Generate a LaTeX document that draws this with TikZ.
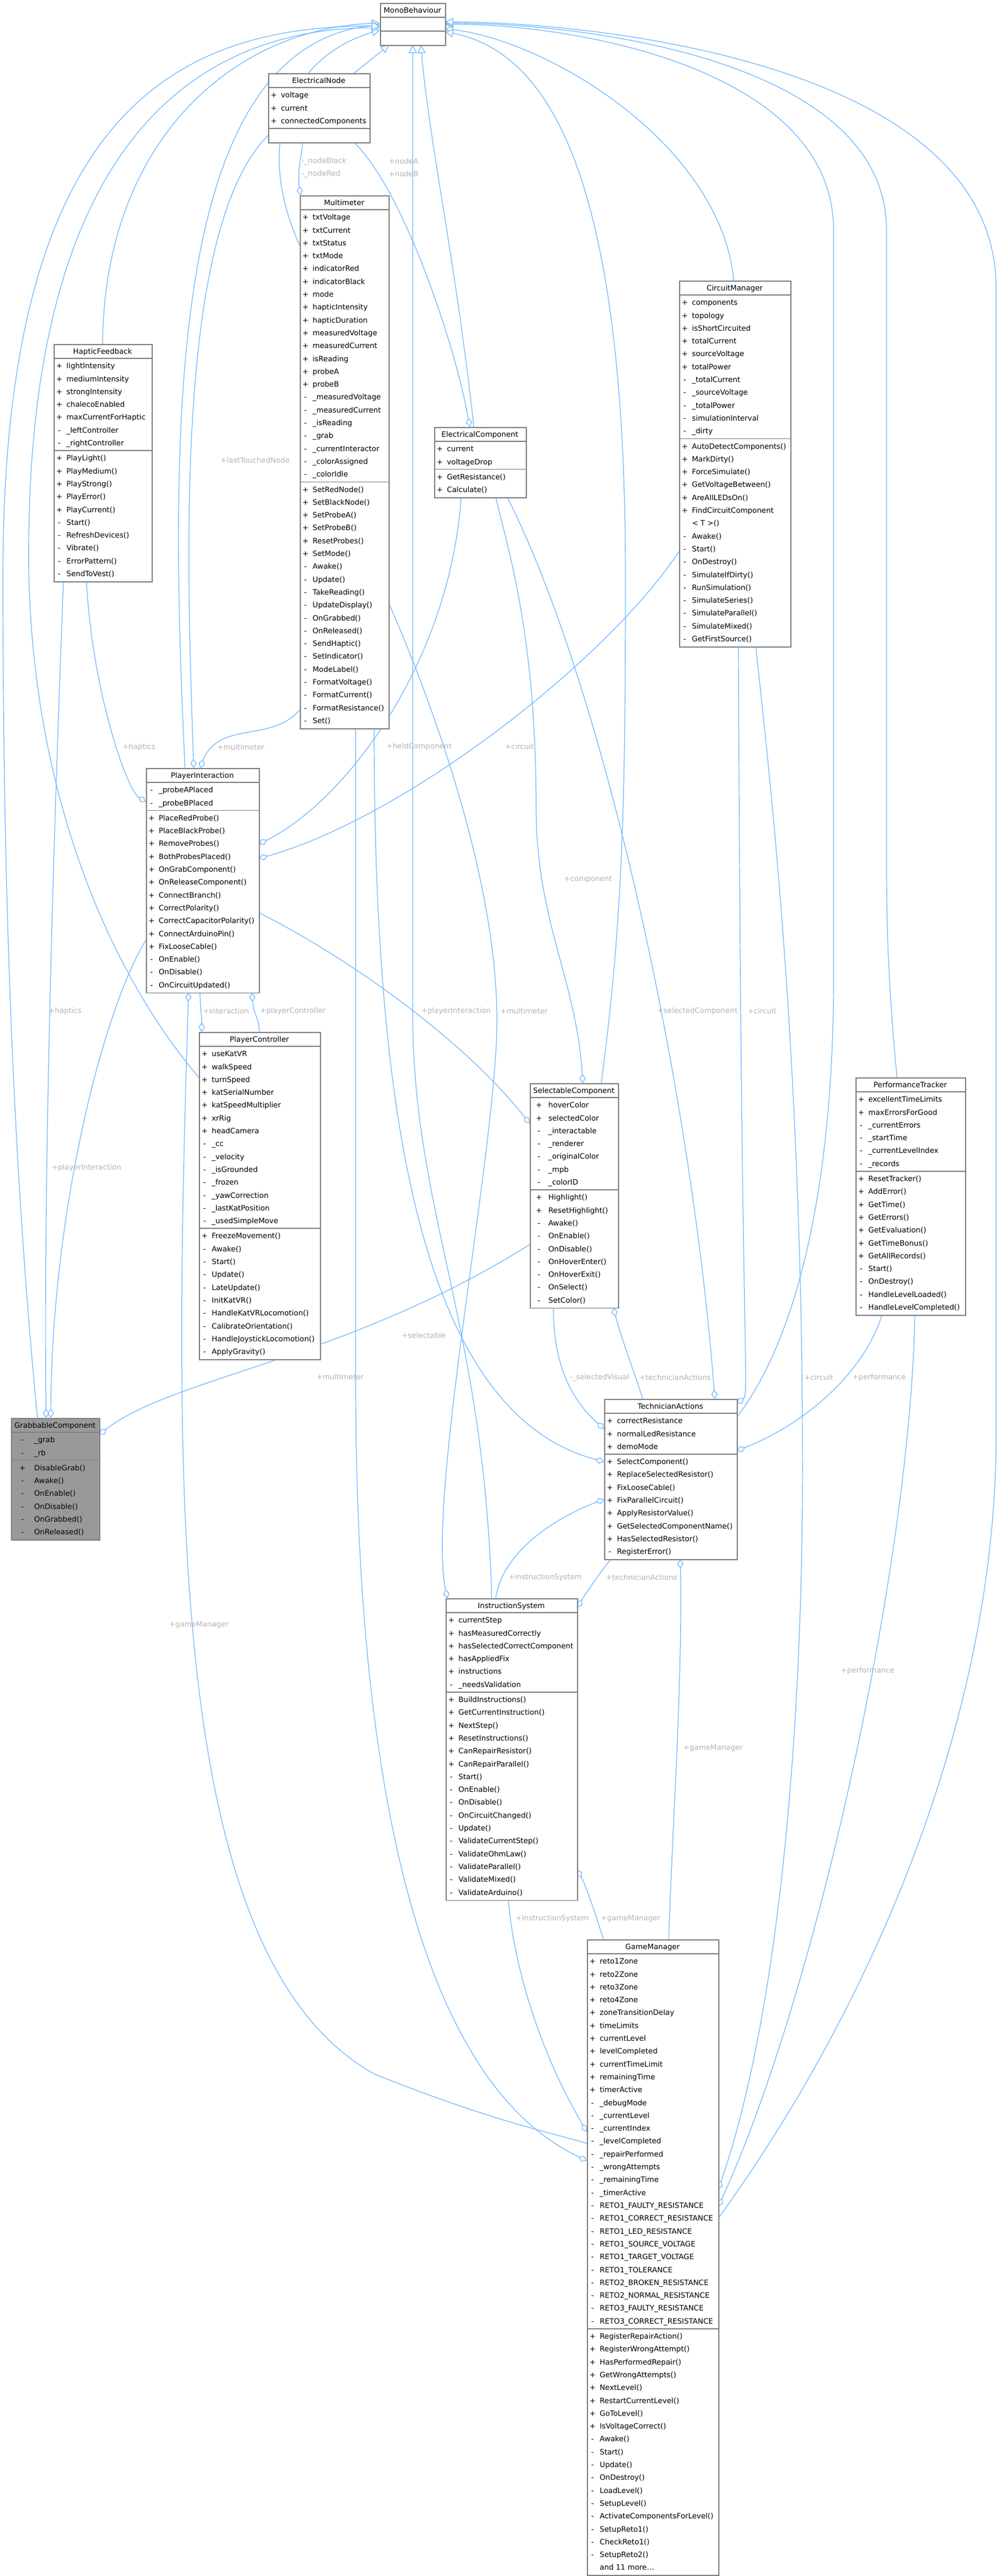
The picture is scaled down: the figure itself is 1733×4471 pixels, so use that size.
\documentclass[tikz,border=0pt]{standalone}
\usepackage{fontspec}
\setmainfont{DejaVu Sans}
\usetikzlibrary{arrows.meta,calc}
\pgfdeclarelayer{bg}\pgfsetlayers{bg,main}
\definecolor{edgec}{HTML}{6AB7FF}
\definecolor{boxc}{HTML}{808080}
\definecolor{lblc}{HTML}{B4B4B4}
\definecolor{grayfill}{HTML}{999999}
\def\boxfill{white}\def\signoff{10}\def\nameoff{22}
\tikzset{
 box/.style={draw=boxc,line width=0.8pt,inner sep=0pt},
 boxline/.style={draw=boxc,line width=0.8pt},
 txt/.style={inner sep=0pt,font=\fontsize{6.4pt}{7.5pt}\selectfont},
 lbl/.style={inner sep=0pt,text=lblc,font=\fontsize{6.4pt}{7.5pt}\selectfont},
 assoc/.style={draw=edgec,line width=0.6pt,{Diamond[fill=white,length=8pt,width=5.5pt]}-},
 inh/.style={draw=edgec,line width=0.6pt,-{Triangle[fill=white,length=7pt,width=7pt]}}
}
\newcommand\umlclass[9]{%
 \pgfmathsetmacro\ya{#3+25}%
 \pgfmathsetmacro\yb{\ya+max(#6*22.3,20)+4}%
 \pgfmathsetmacro\yc{\yb+max(#8*22.3,20)+4}%
 \pgfmathsetmacro\hh{(\yc-#3)*0.5}%
 \pgfmathsetmacro\ww{#4*0.5}%
 \node[box,fill=\boxfill,minimum width=\ww pt,minimum height=\hh pt,anchor=north west] (#1) at (#2,#3) {};
 \draw[boxline] (#2,\ya) -- ++(#4,0) (#2,\yb) -- ++(#4,0);
 \node[txt,anchor=base] (#1-title) at ({#2+#4/2},{#3+17}) {#5};
 \ifnum#6>0
 \foreach[count=\i] \v/\n in {#7}{%
  \node[txt,anchor=base] (#1-as\i) at ({#2+\signoff},{\ya+2+(\i-0.5)*22.3+4.6}) {\v};
  \node[txt,anchor=base west] (#1-a\i) at ({#2+\nameoff},{\ya+2+(\i-0.5)*22.3+4.6}) {\n};}
 \fi
 \ifnum#8>0
 \foreach[count=\i] \v/\n in {#9}{%
  \node[txt,anchor=base] (#1-ms\i) at ({#2+\signoff},{\yb+2+(\i-0.5)*22.3+4.6}) {\v};
  \node[txt,anchor=base west] (#1-m\i) at ({#2+\nameoff},{\yb+2+(\i-0.5)*22.3+4.6}) {\n};}
 \fi
}
\begin{document}
\begin{tikzpicture}[x=0.5pt,y=-0.5pt]
\begin{pgfonlayer}{bg}
\fill[white] (0,0) rectangle (1733,4471);
\end{pgfonlayer}
\useasboundingbox (0,0) rectangle (1733,4471);

\umlclass{mb}{659}{5}{113}{MonoBehaviour}{0}{}{0}{}
\umlclass{en}{465}{127}{176}{ElectricalNode}{3}{+/voltage,+/current,+/connectedComponents}{0}{}
\umlclass{mm}{520}{339}{154}{Multimeter}{21}{+/txtVoltage,+/txtCurrent,+/txtStatus,+/txtMode,+/indicatorRed,+/indicatorBlack,+/mode,+/hapticIntensity,+/hapticDuration,+/measuredVoltage,+/measuredCurrent,+/isReading,+/probeA,+/probeB,-/\_measuredVoltage,-/\_measuredCurrent,-/\_isReading,-/\_grab,-/\_currentInteractor,-/\_colorAssigned,-/\_colorIdle}{19}{+/SetRedNode(),+/SetBlackNode(),+/SetProbeA(),+/SetProbeB(),+/ResetProbes(),+/SetMode(),-/Awake(),-/Update(),-/TakeReading(),-/UpdateDisplay(),-/OnGrabbed(),-/OnReleased(),-/SendHaptic(),-/SetIndicator(),-/ModeLabel(),-/FormatVoltage(),-/FormatCurrent(),-/FormatResistance(),-/Set()}
\umlclass{ec}{753}{741}{159}{ElectricalComponent}{2}{+/current,+/voltageDrop}{2}{+/GetResistance(),+/Calculate()}
\umlclass{cm}{1178}{487}{193}{CircuitManager}{11}{+/components,+/topology,+/isShortCircuited,+/totalCurrent,+/sourceVoltage,+/totalPower,-/\_totalCurrent,-/\_sourceVoltage,-/\_totalPower,-/simulationInterval,-/\_dirty}{16}{+/AutoDetectComponents(),+/MarkDirty(),+/ForceSimulate(),+/GetVoltageBetween(),+/AreAllLEDsOn(),+/FindCircuitComponent,{}/< T >(),-/Awake(),-/Start(),-/OnDestroy(),-/SimulateIfDirty(),-/RunSimulation(),-/SimulateSeries(),-/SimulateParallel(),-/SimulateMixed(),-/GetFirstSource()}
\umlclass{hf}{93}{597}{170}{HapticFeedback}{7}{+/lightIntensity,+/mediumIntensity,+/strongIntensity,+/chalecoEnabled,+/maxCurrentForHaptic,-/\_leftController,-/\_rightController}{10}{+/PlayLight(),+/PlayMedium(),+/PlayStrong(),+/PlayError(),+/PlayCurrent(),-/Start(),-/RefreshDevices(),-/Vibrate(),-/ErrorPattern(),-/SendToVest()}
\umlclass{pi}{253}{1333}{196}{PlayerInteraction}{2}{-/\_probeAPlaced,-/\_probeBPlaced}{14}{+/PlaceRedProbe(),+/PlaceBlackProbe(),+/RemoveProbes(),+/BothProbesPlaced(),+/OnGrabComponent(),+/OnReleaseComponent(),+/ConnectBranch(),+/CorrectPolarity(),+/CorrectCapacitorPolarity(),+/ConnectArduinoPin(),+/FixLooseCable(),-/OnEnable(),-/OnDisable(),-/OnCircuitUpdated()}
\umlclass{pc}{345}{1791}{210}{PlayerController}{14}{+/useKatVR,+/walkSpeed,+/turnSpeed,+/katSerialNumber,+/katSpeedMultiplier,+/xrRig,+/headCamera,-/\_cc,-/\_velocity,-/\_isGrounded,-/\_frozen,-/\_yawCorrection,-/\_lastKatPosition,-/\_usedSimpleMove}{10}{+/FreezeMovement(),-/Awake(),-/Start(),-/Update(),-/LateUpdate(),-/InitKatVR(),-/HandleKatVRLocomotion(),-/CalibrateOrientation(),-/HandleJoystickLocomotion(),-/ApplyGravity()}
\def\signoff{16}\def\nameoff{32}
\umlclass{sc}{919}{1880}{153}{SelectableComponent}{7}{+/hoverColor,+/selectedColor,-/\_interactable,-/\_renderer,-/\_originalColor,-/\_mpb,-/\_colorID}{9}{+/Highlight(),+/ResetHighlight(),-/Awake(),-/OnEnable(),-/OnDisable(),-/OnHoverEnter(),-/OnHoverExit(),-/OnSelect(),-/SetColor()}
\def\signoff{20}\def\nameoff{40}\def\boxfill{grayfill}
\umlclass{gc}{19}{2461}{153}{GrabbableComponent}{2}{-/\_grab,-/\_rb}{6}{+/DisableGrab(),-/Awake(),-/OnEnable(),-/OnDisable(),-/OnGrabbed(),-/OnReleased()}
\def\signoff{10}\def\nameoff{22}\def\boxfill{white}
\umlclass{ta}{1048}{2428}{230}{TechnicianActions}{3}{+/correctResistance,+/normalLedResistance,+/demoMode}{8}{+/SelectComponent(),+/ReplaceSelectedResistor(),+/FixLooseCable(),+/FixParallelCircuit(),+/ApplyResistorValue(),+/GetSelectedComponentName(),+/HasSelectedResistor(),-/RegisterError()}
\umlclass{is}{773}{2774}{228}{InstructionSystem}{6}{+/currentStep,+/hasMeasuredCorrectly,+/hasSelectedCorrectComponent,+/hasAppliedFix,+/instructions,-/\_needsValidation}{16}{+/BuildInstructions(),+/GetCurrentInstruction(),+/NextStep(),+/ResetInstructions(),+/CanRepairResistor(),+/CanRepairParallel(),-/Start(),-/OnEnable(),-/OnDisable(),-/OnCircuitChanged(),-/Update(),-/ValidateCurrentStep(),-/ValidateOhmLaw(),-/ValidateParallel(),-/ValidateMixed(),-/ValidateArduino()}
\umlclass{pt}{1484}{1870}{190}{PerformanceTracker}{6}{+/excellentTimeLimits,+/maxErrorsForGood,-/\_currentErrors,-/\_startTime,-/\_currentLevelIndex,-/\_records}{11}{+/ResetTracker(),+/AddError(),+/GetTime(),+/GetErrors(),+/GetEvaluation(),+/GetTimeBonus(),+/GetAllRecords(),-/Start(),-/OnDestroy(),-/HandleLevelLoaded(),-/HandleLevelCompleted()}
\umlclass{gm}{1018}{3366}{228}{GameManager}{29}{+/reto1Zone,+/reto2Zone,+/reto3Zone,+/reto4Zone,+/zoneTransitionDelay,+/timeLimits,+/currentLevel,+/levelCompleted,+/currentTimeLimit,+/remainingTime,+/timerActive,-/\_debugMode,-/\_currentLevel,-/\_currentIndex,-/\_levelCompleted,-/\_repairPerformed,-/\_wrongAttempts,-/\_remainingTime,-/\_timerActive,-/RETO1\_FAULTY\_RESISTANCE,-/RETO1\_CORRECT\_RESISTANCE,-/RETO1\_LED\_RESISTANCE,-/RETO1\_SOURCE\_VOLTAGE,-/RETO1\_TARGET\_VOLTAGE,-/RETO1\_TOLERANCE,-/RETO2\_BROKEN\_RESISTANCE,-/RETO2\_NORMAL\_RESISTANCE,-/RETO3\_FAULTY\_RESISTANCE,-/RETO3\_CORRECT\_RESISTANCE}{19}{+/RegisterRepairAction(),+/RegisterWrongAttempt(),+/HasPerformedRepair(),+/GetWrongAttempts(),+/NextLevel(),+/RestartCurrentLevel(),+/GoToLevel(),+/IsVoltageCorrect(),-/Awake(),-/Start(),-/Update(),-/OnDestroy(),-/LoadLevel(),-/SetupLevel(),-/ActivateComponentsForLevel(),-/SetupReto1(),-/CheckReto1(),-/SetupReto2(),{}/{and 11 more\ldots}}

\begin{pgfonlayer}{bg}
% associations
\draw[assoc] ($(mm.north west)+(1,0)$) .. controls (515,290) and (525,265) .. ($(en.north west)+(60,120)$);
\draw[assoc] ($(ec.north west)+(62,0)$) .. controls (790,600) and (700,330) .. ($(en.north west)+(149,120)$);
\draw[assoc] ($(pi.north west)+(83,0)$) .. controls (325,1000) and (300,400) .. ($(en.north west)+(0,108)$);
\draw[assoc] ($(pi.north west)+(94,0)$) .. controls (380,1250) and (470,1290) .. ($(mm.north west)+(0,893)$);
\draw[assoc] ($(pi.north west)+(0,59)$) .. controls (220,1370) and (160,1200) .. ($(hf.north west)+(57,412)$);
\draw[assoc] ($(pi.north west)+(196,132)$) .. controls (600,1390) and (780,1150) .. ($(ec.north west)+(47,122)$);
\draw[assoc] ($(pi.north west)+(196,157)$) .. controls (700,1420) and (1050,1150) .. ($(cm.north west)+(0,470)$);
\draw[assoc] ($(sc.north west)+(0,70)$) .. controls (800,1800) and (600,1660) .. ($(pi.north west)+(196,251)$);
\draw[assoc] ($(sc.north west)+(92,0)$) .. controls (1000,1700) and (930,1600) .. (930,1400) .. controls (930,1100) and (880,950) .. ($(ec.north west)+(107,122)$);
\draw[assoc] ($(is.north west)+(3,0)$) .. controls (740,2600) and (860,2000) .. (862,1777) .. controls (864,1500) and (720,1150) .. ($(mm.north west)+(154,707)$);
\draw[assoc] ($(ta.north west)+(0,109)$) .. controls (720,2450) and (649,1900) .. ($(mm.north west)+(129,925)$);
\draw[assoc] ($(gm.north west)+(0,384)$) .. controls (700,3600) and (617,3000) .. (617,2400) .. controls (617,1800) and (617,1500) .. ($(mm.north west)+(97,925)$);
\draw[assoc] ($(gc.north west)+(61,0)$) .. controls (75,2000) and (95,1400) .. ($(hf.north west)+(17,412)$);
\draw[assoc] ($(gc.north west)+(69,0)$) .. controls (90,2100) and (180,1750) .. ($(pi.north west)+(0,299)$);
\draw[assoc] ($(gc.north west)+(153,29)$) .. controls (300,2390) and (600,2360) .. ($(sc.north west)+(0,280)$);
\draw[assoc] ($(pc.north west)+(5,0)$) .. controls (350,1760) and (347,1750) .. ($(pi.north west)+(94,390)$);
\draw[assoc] ($(pi.north west)+(184,390)$) .. controls (440,1760) and (450,1770) .. ($(pc.north west)+(105,0)$);
\draw[assoc] ($(pi.north west)+(74,390)$) .. controls (300,2600) and (290,3400) .. (650,3600) .. controls (850,3680) and (950,3700) .. ($(gm.north west)+(0,354)$);
\draw[assoc] ($(ta.north west)+(0,52)$) .. controls (980,2420) and (960,2350) .. ($(sc.north west)+(41,390)$);
\draw[assoc] ($(sc.north west)+(145,390)$) .. controls (1080,2330) and (1100,2380) .. ($(ta.north west)+(67,0)$);
\draw[assoc] ($(ta.north west)+(192,0)$) .. controls (1200,1900) and (1050,1200) .. ($(ec.north west)+(127,122)$);
\draw[assoc] ($(ta.north west)+(230,8)$) .. controls (1300,2420) and (1285,2300) .. ($(cm.north west)+(103,635)$);
\draw[assoc] ($(ta.north west)+(230,90)$) .. controls (1400,2470) and (1500,2380) .. ($(pt.north west)+(46,412)$);
\draw[assoc] ($(ta.north west)+(0,174)$) .. controls (950,2640) and (870,2700) .. ($(is.north west)+(87,0)$);
\draw[assoc] ($(is.north west)+(228,16)$) .. controls (1020,2760) and (1040,2730) .. ($(ta.north west)+(12,278)$);
\draw[assoc] ($(ta.north west)+(132,278)$) .. controls (1185,2900) and (1165,3200) .. ($(gm.north west)+(142,0)$);
\draw[assoc] ($(is.north west)+(228,471)$) .. controls (1020,3280) and (1035,3330) .. ($(gm.north west)+(29,0)$);
\draw[assoc] ($(gm.north west)+(0,334)$) .. controls (930,3550) and (890,3400) .. ($(is.north west)+(109,524)$);
\draw[assoc] ($(gm.north west)+(228,434)$) .. controls (1350,3500) and (1395,3000) .. (1392,2500) .. controls (1390,1800) and (1330,1300) .. ($(cm.north west)+(133,635)$);
\draw[assoc] ($(gm.north west)+(228,464)$) .. controls (1420,3450) and (1580,2700) .. ($(pt.north west)+(103,412)$);
% inheritance
\draw[inh] ($(en.north west)+(149,0)$) -- ($(mb.north west)+(16,73)$);
\draw[inh] ($(mm.north west)+(0,87)$) .. controls (440,250) and (500,100) .. ($(mb.north west)+(0,47)$);
\draw[inh] ($(ec.north west)+(69,0)$) .. controls (790,450) and (745,250) .. ($(mb.north west)+(71,73)$);
\draw[inh] ($(is.north west)+(80,0)$) .. controls (840,2300) and (716,2100) .. (716,1760) -- ($(mb.north west)+(57,73)$);
\draw[inh] ($(cm.north west)+(95,0)$) .. controls (1250,250) and (950,70) .. ($(mb.north west)+(113,45)$);
\draw[inh] ($(hf.north west)+(85,0)$) .. controls (180,250) and (400,50) .. ($(mb.north west)+(0,35)$);
\draw[inh] ($(pi.north west)+(68,0)$) .. controls (290,700) and (300,80) .. ($(mb.north west)+(0,38)$);
\draw[inh] ($(pc.north west)+(0,79)$) .. controls (200,1700) and (60,1400) .. (50,1000) .. controls (40,300) and (300,50) .. ($(mb.north west)+(0,43)$);
\draw[inh] ($(gc.north west)+(46,0)$) .. controls (20,2000) and (5,1500) .. (5,1000) .. controls (5,200) and (300,45) .. ($(mb.north west)+(0,40)$);
\draw[inh] ($(sc.north west)+(124,0)$) .. controls (1080,1600) and (1085,1400) .. (1085,1000) .. controls (1085,300) and (950,90) .. ($(mb.north west)+(113,50)$);
\draw[inh] ($(ta.north west)+(230,32)$) .. controls (1400,2300) and (1446,2000) .. (1446,1700) -- (1446,400) .. controls (1446,120) and (1000,42) .. ($(mb.north west)+(113,37)$);
\draw[inh] ($(pt.north west)+(72,0)$) .. controls (1540,1700) and (1538,1600) .. (1538,1500) -- (1538,400) .. controls (1538,100) and (1000,40) .. ($(mb.north west)+(113,35)$);
\draw[inh] ($(gm.north west)+(228,484)$) .. controls (1500,3500) and (1725,3000) .. (1728,2500) -- (1728,500) .. controls (1728,100) and (1000,38) .. ($(mb.north west)+(113,33)$);
\end{pgfonlayer}

% labels
\node[lbl,anchor=west] (l1) at (523,280) {-\_nodeBlack};
\node[lbl,anchor=west] (l2) at (523,302) {-\_nodeRed};
\node[lbl,anchor=west] (l3) at (674,280) {+nodeA};
\node[lbl,anchor=west] (l4) at (674,302) {+nodeB};
\node[lbl,anchor=east] (l5) at (503,799) {+lastTouchedNode};
\node[lbl,anchor=east] (l6) at (270,1297) {+haptics};
\node[lbl] (l7) at (418,1297) {+multimeter};
\node[lbl] (l8) at (727,1296) {+heldComponent};
\node[lbl] (l9) at (901,1296) {+circuit};
\node[lbl] (l10) at (1020,1526) {+component};
\node[lbl] (l11) at (791,1755) {+playerInteraction};
\node[lbl] (l12) at (909,1755) {+multimeter};
\node[lbl] (l13) at (1210,1755) {+selectedComponent};
\node[lbl] (l14) at (1322,1755) {+circuit};
\node[lbl] (l15) at (113,1755) {+haptics};
\node[lbl] (l16) at (392,1755) {+interaction};
\node[lbl] (l17) at (508,1755) {+playerController};
\node[lbl] (l18) at (150,2027) {+playerInteraction};
\node[lbl] (l19) at (735,2318) {+selectable};
\node[lbl] (l20) at (590,2390) {+multimeter};
\node[lbl] (l21) at (1040,2391) {-\_selectedVisual};
\node[lbl] (l22) at (1171,2391) {+technicianActions};
\node[lbl] (l23) at (1420,2391) {+circuit};
\node[lbl] (l24) at (1525,2391) {+performance};
\node[lbl] (l25) at (946,2738) {+instructionSystem};
\node[lbl] (l26) at (1113,2738) {+technicianActions};
\node[lbl] (l27) at (345,2820) {+gameManager};
\node[lbl] (l28) at (1505,2900) {+performance};
\node[lbl] (l29) at (1237,3034) {+gameManager};
\node[lbl] (l30) at (958,3330) {+instructionSystem};
\node[lbl] (l31) at (1094,3330) {+gameManager};
\end{tikzpicture}
\end{document}
